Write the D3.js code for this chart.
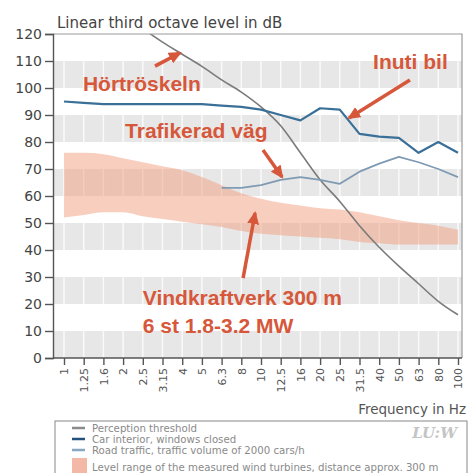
<!DOCTYPE html>
<html>
<head>
<meta charset="utf-8">
<script src="https://cdn.jsdelivr.net/npm/d3@7/dist/d3.min.js"></script>
<style>
  body { margin: 0; background: #fff; }
  svg { display: block; }
</style>
</head>
<body>
<svg id="chart" width="470" height="473"></svg>
<script>
// data
var freqLabels = ["1", "1.25", "1.6", "2", "2.5", "3.15", "4", "5", "6.3", "8", "10", "12.5", "16", "20", "25", "31.5", "40", "50", "63", "80", "100"];
var yTicks = [0, 10, 20, 30, 40, 50, 60, 70, 80, 90, 100, 110, 120];

// perception threshold, starting at 2.5 Hz
var thresholdStart = 4;
var threshold = [122, 117, 112.5, 108, 103, 98.5, 93, 86, 76, 66, 58, 49, 41, 34, 27.5, 21, 16];

// car interior, windows closed
var carInterior = [95, 94.5, 94, 94, 94, 94, 94, 94, 93.5, 93, 92, 90, 88, 92.5, 92, 83, 82, 81.5, 76, 80, 76];

// road traffic, starting at 6.3 Hz
var roadStart = 8;
var roadTraffic = [63, 63, 64, 66, 67, 66, 64.5, 69, 72, 74.5, 72.5, 70, 67];

// wind turbine range
var turbineHigh = [76, 76, 75.5, 74, 72.5, 71, 69.5, 67, 64, 61, 59, 57.5, 56.5, 55.5, 55, 54, 52.5, 51, 50, 49, 47.5];
var turbineLow = [52, 53, 54, 54, 52.5, 51.5, 50.5, 49.5, 48.5, 47, 46, 45.5, 45, 44.5, 44, 43, 42.5, 42, 42, 42, 42];

// annotations (frequency index, dB)
var labels = [
  { text: "Hörtröskeln", i: 0.96, db: 98.9 },
  { text: "Inuti bil", i: 15.69, db: 107 },
  { text: "Trafikerad väg", i: 3.1, db: 81.5 },
  { text: "Vindkraftverk 300 m", i: 4.0, db: 19.6 },
  { text: "6 st 1.8-3.2 MW", i: 4.0, db: 9.4 }
];
var arrows = [
  { i1: 4.62, d1: 108.1, i2: 5.89, d2: 113 },
  { i1: 17.56, d1: 103, i2: 14.47, d2: 88.9 },
  { i1: 10.1, d1: 77, i2: 11.07, d2: 67 },
  { i1: 9.09, d1: 29.6, i2: 9.7, d2: 53.7 }
];

var legendItems = [
  { label: "Perception threshold", type: "line", color: "#8a8a8a" },
  { label: "Car interior, windows closed", type: "line", color: "#24527e" },
  { label: "Road traffic, traffic volume of 2000 cars/h", type: "line", color: "#86a6c2" },
  { label: "Level range of the measured wind turbines, distance approx. 300 m", type: "box", color: "#f4b9a6" }
];

var svg = d3.select("#chart");
var pLeft = 53, pRight = 462, pTop = 34, pBottom = 358;
var red = "#d6573a";

var x = d3.scaleLinear().domain([0, 20]).range([64, 458]);
var y = d3.scaleLinear().domain([0, 120]).range([pBottom, pTop]);

var defs = svg.append("defs");
defs.append("clipPath").attr("id", "plot")
  .append("rect").attr("x", pLeft).attr("y", pTop)
  .attr("width", pRight - pLeft).attr("height", pBottom - pTop);

var marker = defs.append("marker")
  .attr("id", "head")
  .attr("markerUnits", "userSpaceOnUse")
  .attr("markerWidth", 14).attr("markerHeight", 12)
  .attr("refX", 11).attr("refY", 6)
  .attr("orient", "auto");
marker.append("path").attr("d", "M0,0 L13,6 L0,12 Z").attr("fill", red);

// gray bands
var bands = yTicks.filter(function (d) { return d % 20 == 0 && d < 120; });
svg.append("g").selectAll("rect").data(bands).join("rect")
  .attr("x", pLeft).attr("width", pRight - pLeft)
  .attr("y", function (d) { return y(d + 10); })
  .attr("height", function (d) { return y(d) - y(d + 10); })
  .attr("fill", "#e7e7e7");

// vertical grid
svg.append("g").selectAll("line").data(freqLabels).join("line")
  .attr("x1", function (d, i) { return x(i); })
  .attr("x2", function (d, i) { return x(i); })
  .attr("y1", pTop).attr("y2", pBottom)
  .attr("stroke", "#fff").attr("stroke-width", 1.5).attr("opacity", 0.8);

var plot = svg.append("g").attr("clip-path", "url(#plot)");

// wind turbine band
var area = d3.area()
  .x(function (d, i) { return x(i); })
  .y0(function (d, i) { return y(turbineLow[i]); })
  .y1(function (d) { return y(d); })
  .curve(d3.curveMonotoneX);
plot.append("path").datum(turbineHigh)
  .attr("d", area)
  .attr("fill", "#f19d80").attr("fill-opacity", 0.5);

var line = function (offset) {
  return d3.line()
    .x(function (d, i) { return x(i + offset); })
    .y(function (d) { return y(d); });
};

plot.append("path").datum(threshold)
  .attr("d", line(thresholdStart).curve(d3.curveMonotoneX))
  .attr("fill", "none").attr("stroke", "#7b7b7b").attr("stroke-width", 1.6);

plot.append("path").datum(roadTraffic)
  .attr("d", line(roadStart))
  .attr("fill", "none").attr("stroke", "#7f9ab3").attr("stroke-width", 1.8)
  .attr("stroke-linejoin", "round");

plot.append("path").datum(carInterior)
  .attr("d", line(0))
  .attr("fill", "none").attr("stroke", "#3a6f98").attr("stroke-width", 2.2)
  .attr("stroke-linejoin", "round");

// frame
svg.append("path")
  .attr("d", "M" + pLeft + "," + pTop + "H" + pRight + "V" + pBottom)
  .attr("fill", "none").attr("stroke", "#9a9a9a").attr("stroke-width", 1.2);

// axes
var yAxis = svg.append("g")
  .attr("transform", "translate(" + pLeft + ",0)")
  .call(d3.axisLeft(y).tickValues(yTicks).tickSize(8).tickPadding(3));
yAxis.selectAll("text")
  .attr("font-family", "DejaVu Sans").attr("font-size", 14).attr("fill", "#444");

var xAxis = svg.append("g")
  .attr("transform", "translate(0," + pBottom + ")")
  .call(d3.axisBottom(x).tickValues(d3.range(freqLabels.length))
    .tickFormat(function (d) { return freqLabels[d]; }).tickSize(7).tickSizeOuter(0));
xAxis.select(".domain").attr("d", "M" + pLeft + ",0H" + pRight);
xAxis.selectAll("text")
  .attr("font-family", "DejaVu Sans").attr("font-size", 11).attr("fill", "#555")
  .attr("text-anchor", "end")
  .attr("transform", "rotate(-90)")
  .attr("x", -10).attr("y", 0).attr("dy", "0.35em");

svg.selectAll(".domain, .tick line").attr("stroke", "#555").attr("stroke-width", 1.4);

svg.append("text")
  .attr("x", 57).attr("y", 28)
  .attr("font-family", "DejaVu Sans").attr("font-size", 15).attr("fill", "#444")
  .text("Linear third octave level in dB");

svg.append("text")
  .attr("x", 466).attr("y", 414).attr("text-anchor", "end")
  .attr("font-family", "DejaVu Sans").attr("font-size", 13.5).attr("fill", "#555")
  .text("Frequency in Hz");

// annotations
svg.append("g").selectAll("line").data(arrows).join("line")
  .attr("x1", function (d) { return x(d.i1); })
  .attr("y1", function (d) { return y(d.d1); })
  .attr("x2", function (d) { return x(d.i2); })
  .attr("y2", function (d) { return y(d.d2); })
  .attr("stroke", red).attr("stroke-width", 3.5)
  .attr("marker-end", "url(#head)");

svg.append("g").selectAll("text").data(labels).join("text")
  .attr("x", function (d) { return x(d.i); })
  .attr("y", function (d) { return y(d.db); })
  .attr("font-family", "Liberation Sans").attr("font-weight", "bold")
  .attr("font-size", 21).attr("fill", red)
  .text(function (d) { return d.text; });

// legend
var lg = svg.append("g").attr("transform", "translate(55,421)");
lg.append("rect").attr("x", 0).attr("y", 0).attr("width", 412).attr("height", 60)
  .attr("fill", "#fff").attr("stroke", "#888").attr("stroke-width", 1);

var rows = lg.selectAll("g.row").data(legendItems).join("g")
  .attr("class", "row")
  .attr("transform", function (d, i) { return "translate(0," + (i < 3 ? 7 + i * 11 : 46) + ")"; });
rows.filter(function (d) { return d.type == "line"; }).append("line")
  .attr("x1", 17).attr("x2", 30).attr("y1", 0).attr("y2", 0)
  .attr("stroke", function (d) { return d.color; }).attr("stroke-width", 2.5);
rows.filter(function (d) { return d.type == "box"; }).append("rect")
  .attr("x", 17).attr("y", -9).attr("width", 15).attr("height", 16)
  .attr("fill", function (d) { return d.color; });
rows.append("text")
  .attr("x", 37).attr("y", 0).attr("dy", "0.35em")
  .attr("font-family", "DejaVu Sans").attr("font-size", 10.2).attr("fill", "#8a8a8a")
  .text(function (d) { return d.label; });

lg.append("text")
  .attr("x", 402).attr("y", 17).attr("text-anchor", "end")
  .attr("font-family", "DejaVu Serif").attr("font-style", "italic").attr("font-weight", "bold")
  .attr("font-size", 15).attr("fill", "#c4c4c4")
  .text("LU:W");
</script>
</body>
</html>
